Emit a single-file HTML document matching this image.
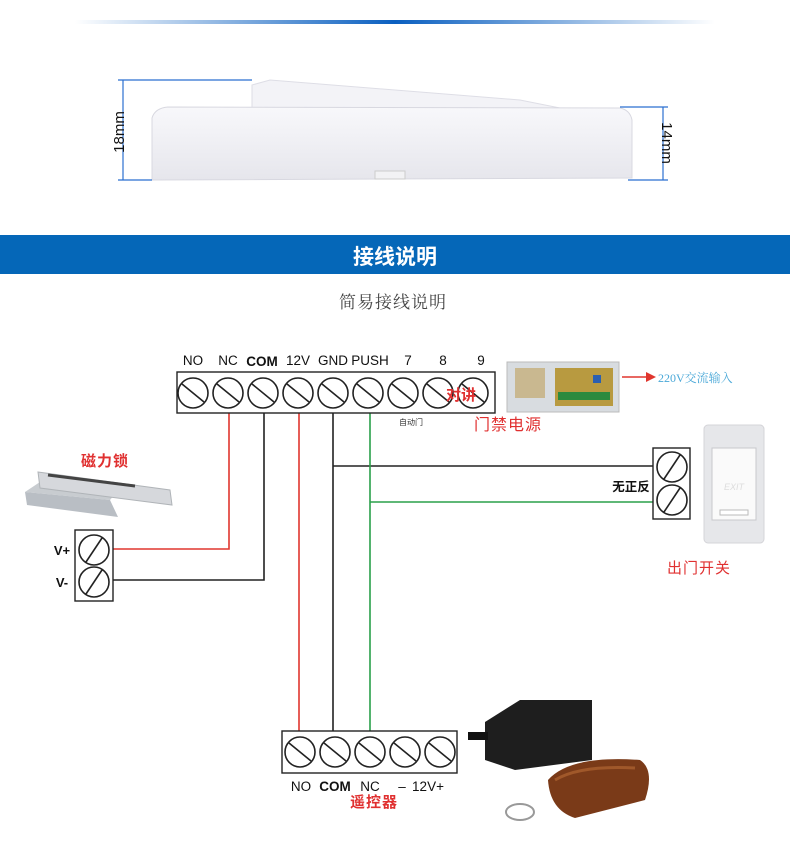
<!DOCTYPE html>
<html><head><meta charset="utf-8"><style>
html,body{margin:0;padding:0;background:#fff;}
svg{display:block;}
</style></head><body>
<svg width="790" height="863" viewBox="0 0 790 863" xmlns="http://www.w3.org/2000/svg" font-family="Liberation Sans, Noto Sans CJK SC, sans-serif">
<defs>
<linearGradient id="tl" x1="0" x2="1"><stop offset="0" stop-color="#fff"/><stop offset="0.5" stop-color="#0a5fc0"/><stop offset="1" stop-color="#fff"/></linearGradient>
<linearGradient id="dev" x1="0" y1="0" x2="0" y2="1"><stop offset="0" stop-color="#f8f8fb"/><stop offset="1" stop-color="#e6e6ec"/></linearGradient>
<g id="sc"><circle r="15" fill="#fff" stroke="#222" stroke-width="1.6"/><line x1="-11" y1="-9" x2="11" y2="9" stroke="#222" stroke-width="1.6"/></g>
<g id="sc2"><circle r="15" fill="#fff" stroke="#222" stroke-width="1.6"/><line x1="-8" y1="12" x2="8" y2="-12" stroke="#222" stroke-width="1.6"/></g>
</defs>
<rect x="75" y="20" width="640" height="4" fill="url(#tl)"/>
<!-- device -->
<path d="M252 85 L270 80 L520 100 L560 108 L252 108 Z" fill="#f3f3f7" stroke="#dedee6"/>
<path d="M152 118 Q155 108 168 107 L620 108 Q630 110 632 120 L632 178 L152 180 Z" fill="url(#dev)" stroke="#d8d8e0"/>
<rect x="375" y="171" width="30" height="8" fill="#f2f2f4" stroke="#ccc"/>
<g stroke="#2a6fd0" stroke-width="1.2">
<line x1="118" y1="80" x2="252" y2="80"/><line x1="118" y1="180" x2="152" y2="180"/><line x1="123" y1="80" x2="123" y2="180"/>
<line x1="620" y1="107" x2="668" y2="107"/><line x1="628" y1="180" x2="668" y2="180"/><line x1="663" y1="107" x2="663" y2="180"/>
</g>
<text transform="translate(124,132) rotate(-90)" text-anchor="middle" font-size="15" fill="#111">18mm</text>
<text transform="translate(662,143) rotate(90)" text-anchor="middle" font-size="15" fill="#111">14mm</text>
<!-- bar -->
<rect x="0" y="235" width="790" height="39" fill="#0567b8"/>
<text x="395" y="264" text-anchor="middle" font-size="21" font-weight="bold" fill="#fff">接线说明</text>
<text x="393" y="308" text-anchor="middle" font-size="17" fill="#444" font-family="Liberation Serif, Noto Serif CJK SC, serif" letter-spacing="1">简易接线说明</text>
<!-- wires -->
<g fill="none" stroke-width="1.6">
<path d="M229 408 V549 H108" stroke="#e0362e"/>
<path d="M264 408 V580 H108" stroke="#222"/>
<path d="M299 408 V740" stroke="#e0362e"/>
<path d="M333 408 V740 M333 466 H657" stroke="#222"/>
<path d="M370 408 V740 M370 502 H657" stroke="#2aa04a"/>
</g>
<!-- top terminal -->
<g font-size="13.5" fill="#111" text-anchor="middle">
<text x="193" y="365">NO</text><text x="228" y="365">NC</text><text x="262" y="366" font-weight="bold">COM</text>
<text x="298" y="365">12V</text><text x="333" y="365">GND</text><text x="370" y="365">PUSH</text>
<text x="408" y="365">7</text><text x="443" y="365">8</text><text x="481" y="365">9</text>
</g>
<rect x="177" y="372" width="318" height="41" fill="#fff" stroke="#222" stroke-width="1.4"/>
<use href="#sc" x="193" y="393"/><use href="#sc" x="228" y="393"/><use href="#sc" x="263" y="393"/><use href="#sc" x="298" y="393"/><use href="#sc" x="333" y="393"/><use href="#sc" x="368" y="393"/><use href="#sc" x="403" y="393"/><use href="#sc" x="438" y="393"/><use href="#sc" x="473" y="393"/>
<text x="461" y="400" text-anchor="middle" font-size="15" font-weight="bold" fill="#e03030">对讲</text>
<text x="411" y="425" text-anchor="middle" font-size="8" fill="#333">自动门</text>
<text x="508" y="430" text-anchor="middle" font-size="16" fill="#e03030" letter-spacing="1">门禁电源</text>
<!-- power supply -->
<rect x="507" y="362" width="112" height="50" fill="#d8dce0" stroke="#bbb"/>
<rect x="515" y="368" width="30" height="30" fill="#c9b890"/>
<rect x="555" y="368" width="58" height="38" fill="#b89a40"/>
<rect x="558" y="392" width="52" height="8" fill="#2b8a3e"/>
<rect x="593" y="375" width="8" height="8" fill="#2a5fb0"/>
<line x1="622" y1="377" x2="648" y2="377" stroke="#e0362e" stroke-width="1.5"/>
<path d="M646 372 L656 377 L646 382 Z" fill="#e0362e"/>
<text x="658" y="382" font-size="12" fill="#4aa8d8" font-family="Liberation Serif, Noto Serif CJK SC, serif">220V交流输入</text>
<!-- maglock -->
<text x="105" y="466" text-anchor="middle" font-size="15" font-weight="bold" fill="#e03030" letter-spacing="1">磁力锁</text>
<path d="M25 492 L40 482 L120 488 L110 500 Z" fill="#c8ccd0"/>
<path d="M25 492 L110 500 L118 517 L27 505 Z" fill="#b9bec4"/>
<path d="M38 472 L170 490 L172 505 L40 488 Z" fill="#d6d8dc" stroke="#b0b4b8"/>
<path d="M48 475 L135 486" stroke="#444" stroke-width="3"/>
<!-- left terminal -->
<rect x="75" y="530" width="38" height="71" fill="#fff" stroke="#222" stroke-width="1.4"/>
<use href="#sc2" x="94" y="550"/><use href="#sc2" x="94" y="582"/>
<text x="62" y="555" text-anchor="middle" font-size="13" font-weight="bold" fill="#111">V+</text>
<text x="62" y="587" text-anchor="middle" font-size="13" font-weight="bold" fill="#111">V-</text>
<!-- exit terminal -->
<rect x="653" y="448" width="37" height="71" fill="#fff" stroke="#222" stroke-width="1.4"/>
<use href="#sc2" x="672" y="467"/><use href="#sc2" x="672" y="500"/>
<text x="631" y="491" text-anchor="middle" font-size="12.5" font-weight="bold" fill="#111">无正反</text>
<rect x="704" y="425" width="60" height="118" rx="4" fill="#e6e7ea" stroke="#d4d4d8"/>
<rect x="712" y="448" width="44" height="72" fill="#fafafa" stroke="#c8c8cc"/>
<text x="734" y="490" text-anchor="middle" font-size="9" fill="#ddd" font-style="italic">EXIT</text>
<rect x="720" y="510" width="28" height="5" fill="#fff" stroke="#bbb"/>
<text x="699" y="573" text-anchor="middle" font-size="15" fill="#e03030" letter-spacing="1">出门开关</text>
<!-- bottom terminal -->
<rect x="282" y="731" width="175" height="42" fill="#fff" stroke="#222" stroke-width="1.4"/>
<use href="#sc" x="300" y="752"/><use href="#sc" x="335" y="752"/><use href="#sc" x="370" y="752"/><use href="#sc" x="405" y="752"/><use href="#sc" x="440" y="752"/>
<g font-size="13.5" fill="#111" text-anchor="middle">
<text x="301" y="791">NO</text><text x="335" y="791" font-weight="bold">COM</text><text x="370" y="791">NC</text><text x="402" y="791">–</text><text x="428" y="791">12V+</text>
</g>
<text x="374" y="807" text-anchor="middle" font-size="15" font-weight="bold" fill="#e03030" letter-spacing="1">遥控器</text>
<!-- receiver & remote -->
<path d="M485 722 L520 700 L592 700 L592 760 L515 770 L485 760 Z" fill="#1e1e1e"/>
<rect x="468" y="732" width="20" height="8" fill="#111"/>
<path d="M548 780 Q570 755 640 760 Q655 770 645 800 L575 818 Q550 810 548 780 Z" fill="#7a3a18"/>
<path d="M555 780 Q580 765 635 768" stroke="#a0582a" stroke-width="3" fill="none"/>
<ellipse cx="520" cy="812" rx="14" ry="8" fill="none" stroke="#999" stroke-width="2"/>
</svg>
</body></html>
